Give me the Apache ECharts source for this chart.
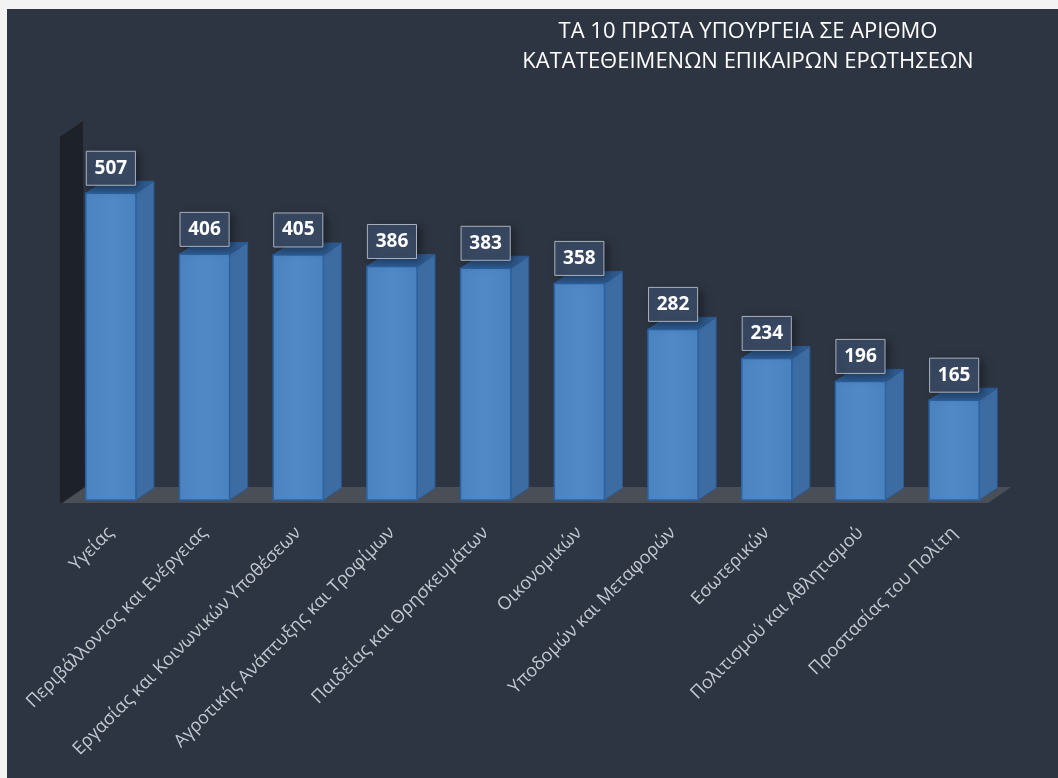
<!DOCTYPE html>
<html>
<head>
<meta charset="utf-8">
<script src="https://cdn.jsdelivr.net/npm/echarts@6/dist/echarts.min.js"></script>
<style>
  html, body { margin: 0; padding: 0; background: #f3f3f3; }
  #chart { position: absolute; left: 7px; top: 9px; width: 1051px; height: 769px; background: #2d3542; }
</style>
</head>
<body>
<div id="chart"></div>
<script>
const categories = [
  'Υγείας',
  'Περιβάλλοντος και Ενέργειας',
  'Εργασίας και Κοινωνικών Υποθέσεων',
  'Αγροτικής Ανάπτυξης και Τροφίμων',
  'Παιδείας και Θρησκευμάτων',
  'Οικονομικών',
  'Υποδομών και Μεταφορών',
  'Εσωτερικών',
  'Πολιτισμού και Αθλητισμού',
  'Προστασίας του Πολίτη'
]
const questions = [507, 406, 405, 386, 383, 358, 282, 234, 196, 165]
const AXIS_MAX = 600

// 3d depth of bars and of the floor/wall
const BAR_DX = 18, BAR_DY = -12
const FLOOR_DX = 23, FLOOR_DY = -16

const chart = echarts.init(document.getElementById('chart'))

function renderFrame(params, api) {
  const first = api.coord([0, 0])
  const last = api.coord([categories.length - 1, 0])
  const top = api.coord([0, AXIS_MAX])
  const y0 = first[1] + 3
  const xl = first[0] - 49
  const xr = last[0] + 34
  return {
    type: 'group',
    children: [
      {
        type: 'polygon',
        shape: { points: [[xl, y0], [xl + FLOOR_DX, y0 + FLOOR_DY], [xr + FLOOR_DX, y0 + FLOOR_DY], [xr, y0]] },
        style: { fill: '#4a4e57' }
      },
      {
        type: 'polygon',
        shape: { points: [[xl - 2, y0], [xl - 2, top[1]], [xl + FLOOR_DX - 2, top[1] + FLOOR_DY], [xl + FLOOR_DX, y0 + FLOOR_DY], [xl, y0]] },
        style: { fill: '#1d222a' }
      }
    ]
  }
}

function renderBar(params, api) {
  const i = api.value(0)
  const v = api.value(1)
  const top = api.coord([i, v])
  const base = api.coord([i, 0])
  const w = api.size([1, 0])[0] * 0.535
  const x0 = top[0] - w / 2
  const x1 = top[0] + w / 2
  const yt = top[1]
  const yb = base[1]
  return {
    type: 'group',
    children: [
      {
        type: 'polygon',
        shape: { points: [[x1, yb], [x1 + BAR_DX, yb + BAR_DY], [x1 + BAR_DX, yt + BAR_DY], [x1, yt]] },
        style: { fill: '#3d6ca3', stroke: '#2c5a92', lineWidth: 1 }
      },
      {
        type: 'polygon',
        shape: { points: [[x0, yt], [x0 + BAR_DX, yt + BAR_DY], [x1 + BAR_DX, yt + BAR_DY], [x1, yt]] },
        style: { fill: '#2f5b90', stroke: '#2c5a92', lineWidth: 1 }
      },
      {
        type: 'rect',
        shape: { x: x0, y: yt, width: w, height: yb - yt },
        style: {
          fill: new echarts.graphic.LinearGradient(0, 0, 1, 0, [
            { offset: 0, color: '#4b83c0' },
            { offset: 0.5, color: '#5089c6' },
            { offset: 1, color: '#4a82bf' }
          ]),
          stroke: '#2a62a3',
          lineWidth: 1.5
        }
      },
      {
        type: 'rect',
        shape: { x: x0 + 0.5, y: yt - 42, width: w - 1, height: 34 },
        style: {
          fill: '#384861',
          stroke: '#a9b1bd',
          lineWidth: 1,
          shadowBlur: 8,
          shadowOffsetX: 4,
          shadowOffsetY: 3,
          shadowColor: 'rgba(0,0,0,0.35)'
        }
      },
      {
        type: 'text',
        style: {
          text: String(v),
          x: top[0],
          y: yt - 25,
          align: 'center',
          verticalAlign: 'middle',
          fill: '#ffffff',
          font: 'bold 19px "Open Sans", sans-serif'
        }
      }
    ]
  }
}

chart.setOption({
  animation: false,
  title: {
    text: 'ΤΑ 10 ΠΡΩΤΑ ΥΠΟΥΡΓΕΙΑ ΣΕ ΑΡΙΘΜΟ\nΚΑΤΑΤΕΘΕΙΜΕΝΩΝ ΕΠΙΚΑΙΡΩΝ ΕΡΩΤΗΣΕΩΝ',
    left: 736,
    top: 3,
    textAlign: 'center',
    textStyle: {
      color: '#ffffff',
      fontFamily: 'Open Sans',
      fontWeight: 'normal',
      fontSize: 22,
      lineHeight: 30
    }
  },
  grid: { left: 57, right: 57, top: 128, bottom: 278 },
  xAxis: {
    type: 'category',
    data: categories,
    axisLine: { show: false },
    axisTick: { show: false },
    axisLabel: {
      interval: 0,
      rotate: 45,
      margin: 30,
      color: '#c3c8d0',
      fontFamily: 'Open Sans',
      fontSize: 18
    }
  },
  yAxis: {
    type: 'value',
    min: 0,
    max: AXIS_MAX,
    show: false
  },
  series: [
    {
      type: 'custom',
      renderItem: renderFrame,
      data: [[0, 0]],
      silent: true,
      z: 1
    },
    {
      type: 'custom',
      renderItem: renderBar,
      data: questions.map((v, i) => [i, v]),
      z: 2
    }
  ]
})
</script>
</body>
</html>
